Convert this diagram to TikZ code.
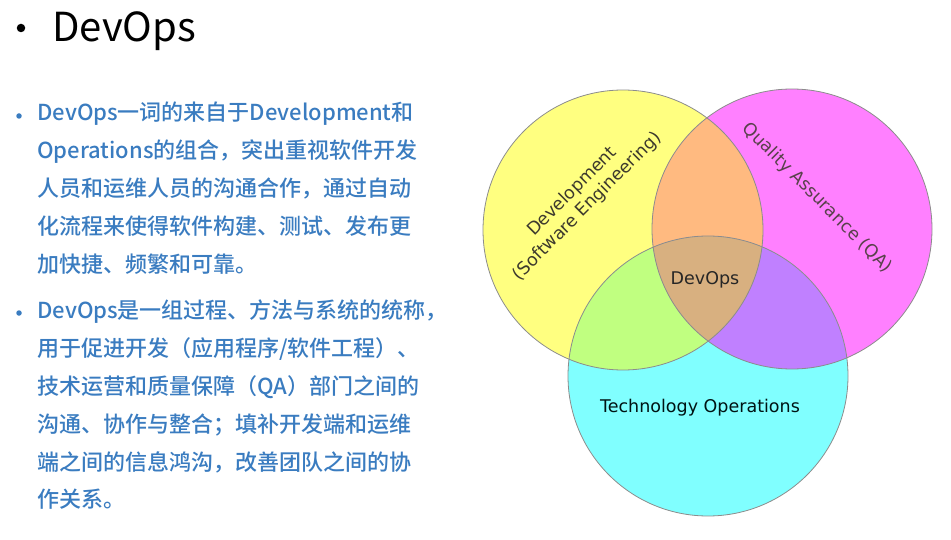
\documentclass[tikz,border=0pt]{standalone}
\usepackage{fontspec}
\setmainfont{Noto Sans CJK SC}[UprightFont = * Medium]
\newfontfamily\titlefont{Noto Sans CJK SC}
\newfontfamily\vennfont{DejaVu Sans}
\definecolor{textblue}{RGB}{58,124,192}
\definecolor{devyellow}{RGB}{255,255,128}
\definecolor{qamagenta}{RGB}{255,128,255}
\definecolor{opscyan}{RGB}{128,255,255}
\definecolor{devqa}{RGB}{255,186,128}
\definecolor{devops}{RGB}{192,255,128}
\definecolor{qaops}{RGB}{192,128,255}
\definecolor{allthree}{RGB}{216,176,128}

\begin{document}
\begin{tikzpicture}[x=1pt,y=-1pt,
    set/.style = {circle,
        minimum size = 280pt,
        inner sep = 0pt},
    outline/.style = {draw=black!45, line width=0.8pt},
    para/.style = {anchor=north west, align=left, inner sep=0pt,
        text=textblue, font=\fontsize{22}{37.8}\selectfont},
    bullet/.style = {circle, inner sep=0pt, minimum size=5.5pt, fill=textblue},
    vlabel/.style = {font=\vennfont\fontsize{17.5}{21}\selectfont,
        align=center, inner sep=0pt}]
\useasboundingbox (0,0) rectangle (951,540);

% Title
\node[bullet, fill=black, minimum size=8.5pt] (bul) at (21,28) {};
\node[anchor=base west, inner sep=0pt, font=\titlefont\fontsize{40}{40}\selectfont] (title) at (52,42) {DevOps};

% Paragraphs
\node[bullet] (b1) at (19,116) {};
\node[para] (p1) at (37,102) {DevOps一词的来自于Development和\\
Operations的组合，突出重视软件开发\\
人员和运维人员的沟通合作，通过自动\\
化流程来使得软件构建、测试、发布更\\
加快捷、频繁和可靠。};

\node[bullet] (b2) at (19,313) {};
\node[para] (p2) at (37,300) {DevOps是一组过程、方法与系统的统称，\\
用于促进开发（应用程序/软件工程）、\\
技术运营和质量保障（QA）部门之间的\\
沟通、协作与整合；填补开发端和运维\\
端之间的信息鸿沟，改善团队之间的协\\
作关系。};

% Sets
\node[set, fill=devyellow] (dev) at (623,230) {};
\node[set, fill=qamagenta] (qa) at (792,229) {};
\node[set, fill=opscyan] (ops) at (708,376) {};

% Overlaps
\begin{scope}
  \clip (dev.center) circle[radius=140pt];
  \fill[devqa] (qa.center) circle[radius=140pt];
  \fill[devops] (ops.center) circle[radius=140pt];
\end{scope}
\begin{scope}
  \clip (qa.center) circle[radius=140pt];
  \fill[qaops] (ops.center) circle[radius=140pt];
\end{scope}
\begin{scope}
  \clip (dev.center) circle[radius=140pt];
  \clip (qa.center) circle[radius=140pt];
  \fill[allthree] (ops.center) circle[radius=140pt];
\end{scope}

% Circles outline
\draw[outline] (dev.center) circle[radius=140pt];
\draw[outline] (qa.center) circle[radius=140pt];
\draw[outline] (ops.center) circle[radius=140pt];

% Labels
\node[vlabel, rotate=45, text=black!75!olive] (devl) at (580,199) {Development\\(Software Engineering)};
\node[vlabel, rotate=-45, text=black!75!magenta] (qal) at (817,198) {Quality Assurance (QA)};
\node[vlabel, text=black!85!teal] (opsl) at (700,408) {Technology Operations};
\node[vlabel, text=black!85] (center) at (705,280) {DevOps};
\end{tikzpicture}
\end{document}
